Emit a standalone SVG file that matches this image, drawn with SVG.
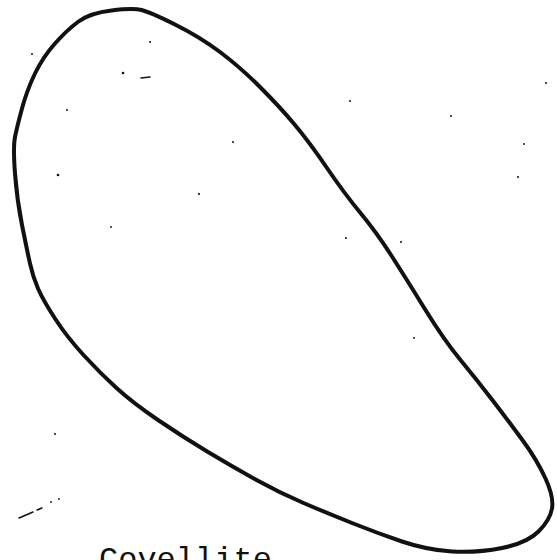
<svg xmlns="http://www.w3.org/2000/svg" width="557" height="560" viewBox="0 0 557 560">
<style>
.loop{fill:none;stroke:#111;stroke-width:4;stroke-linejoin:round;stroke-linecap:round}
.speck{fill:#111}
.mark{fill:none;stroke:#111;stroke-width:1.5;stroke-linecap:round}
.label{font-family:"Liberation Mono","Courier New",monospace;font-size:32px;fill:#111}
</style>
<rect width="557" height="560" fill="#fff"/>
<g id="loop">
<path class="loop" d="M111.5,10.5 Q133,8 141.5,10 Q150,12 175,24.5 Q200,37 220,52 Q240,67 260,87 Q280,107 295,125 Q310,143 327,168 Q344,193 360.5,213 Q377,233 392,256.5 Q407,280 425.5,310 Q444,340 460.5,360 Q477,380 493.5,401.5 Q510,423 523.5,441.5 Q537,460 545.5,478.5 Q554,497 552,508.5 Q550,520 538.5,531.5 Q527,543 502,548 Q477,553 452,551.5 Q427,550 402,541.5 Q377,533 352,523 Q327,513 303.5,503 Q280,493 256.5,480 Q233,467 208,452 Q183,437 158,420 Q133,403 116.5,388 Q100,373 83.5,355 Q67,337 55,318.5 Q43,300 38,288.5 Q33,277 30,263.5 Q27,250 22,225 Q17,200 15,173.5 Q13,147 15,137 Q17,127 22,108.5 Q27,90 35,73.5 Q43,57 55,43.5 Q67,30 78.5,21.5 Q90,13 111.5,10.5 Z"/>
</g>
<g id="specks">
<circle class="speck" cx="150" cy="42" r="1"/>
<circle class="speck" cx="123" cy="73" r="1.3"/>
<path class="mark" d="M141,78 L150,77"/>
<circle class="speck" cx="67" cy="110" r="1"/>
<circle class="speck" cx="233" cy="142" r="1"/>
<circle class="speck" cx="58" cy="175" r="1.3"/>
<circle class="speck" cx="199" cy="194" r="1.1"/>
<circle class="speck" cx="111" cy="227" r="0.9"/>
<circle class="speck" cx="32" cy="54" r="1"/>
<circle class="speck" cx="350" cy="101" r="1"/>
<circle class="speck" cx="451" cy="116" r="1"/>
<circle class="speck" cx="546" cy="83" r="1"/>
<circle class="speck" cx="524" cy="144" r="1"/>
<circle class="speck" cx="518" cy="177" r="1"/>
<circle class="speck" cx="346" cy="238" r="1"/>
<circle class="speck" cx="401" cy="242" r="1"/>
<circle class="speck" cx="414" cy="338" r="0.9"/>
<circle class="speck" cx="55" cy="434" r="1"/>
<path class="mark" d="M19,518 L33,512 M37,510 L42,508"/>
<circle class="speck" cx="51" cy="502" r="0.9"/>
<circle class="speck" cx="59" cy="499" r="0.9"/>
</g>
<g id="caption">
<text class="label" x="99" y="569">Covellite</text>
</g>
</svg>
